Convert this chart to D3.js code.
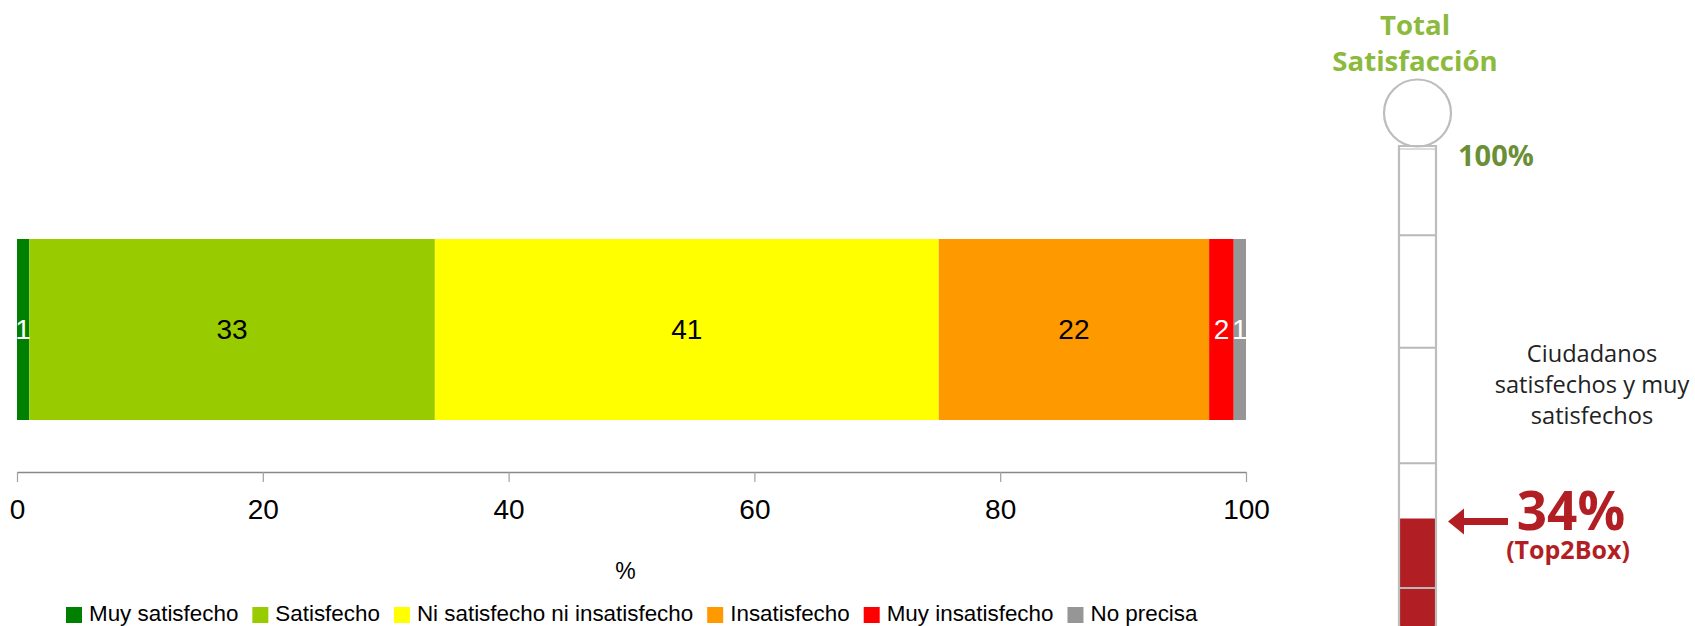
<!DOCTYPE html>
<html>
<head>
<meta charset="utf-8">
<script src="https://cdn.jsdelivr.net/npm/d3@7"></script>
<style>
  html, body { margin: 0; padding: 0; background: #ffffff; }
  svg { display: block; }
</style>
</head>
<body>
<svg id="chart" width="1695" height="626"></svg>
<script>
// Satisfaction distribution (percent of citizens)
const categories = ["Muy satisfecho", "Satisfecho", "Ni satisfecho ni insatisfecho", "Insatisfecho", "Muy insatisfecho", "No precisa"];
const values = [1, 33, 41, 22, 2, 1];
const colors = ["#008000", "#99cc00", "#ffff00", "#ff9900", "#ff0000", "#969696"];
const labelColors = ["#ffffff", "#000000", "#000000", "#000000", "#ffffff", "#ffffff"];
const xTicks = [0, 20, 40, 60, 80, 100];
const axisTitle = "%";

// Thermometer panel
const thermoTitle = ["Total", "Satisfacción"];
const thermoTopLabel = "100%";
const thermoMarks = [84.6, 64.5, 43.9, 21.6];
const thermoCaption = ["Ciudadanos", "satisfechos y muy", "satisfechos"];
const top2BoxNote = "(Top2Box)";

const svg = d3.select("#chart");
const FONT = "'Liberation Sans', Arial, sans-serif";
const TFONT = "'Open Sans', 'Noto Sans', sans-serif";

// ---------- stacked bar ----------
const x = d3.scaleLinear().domain([0, 100]).range([17, 1246]);
const y = d3.scaleBand().domain(["total"]).range([239, 420]).padding(0);

const ends = Array.from(d3.cumsum(values));
const segs = values.map((v, i) => ({
  name: categories[i], value: v, start: ends[i] - v, end: ends[i],
  color: colors[i], labelColor: labelColors[i]
}));

const bar = svg.append("g");
bar.selectAll("rect").data(segs).join("rect")
  .attr("x", d => x(d.start))
  .attr("y", y("total"))
  .attr("width", d => x(d.end) - x(d.start))
  .attr("height", y.bandwidth())
  .attr("fill", d => d.color);

bar.selectAll("text").data(segs).join("text")
  .attr("x", d => (x(d.start) + x(d.end)) / 2)
  .attr("y", y("total") + y.bandwidth() / 2)
  .attr("dy", "0.35em")
  .attr("text-anchor", "middle")
  .attr("font-family", FONT)
  .attr("font-size", 28)
  .attr("fill", d => d.labelColor)
  .text(d => d.value);

// ---------- x axis ----------
const axisG = svg.append("g")
  .attr("transform", "translate(0,472)")
  .call(d3.axisBottom(x).tickValues(xTicks).tickSize(10).tickSizeOuter(0).tickPadding(17));
axisG.select(".domain").attr("stroke", "#888888").attr("stroke-width", 1.5);
axisG.selectAll(".tick line").attr("stroke", "#a0a0a0").attr("stroke-width", 1.2);
axisG.selectAll(".tick text")
  .attr("font-family", FONT).attr("font-size", 28).attr("fill", "#000");

svg.append("text")
  .attr("x", (x(0) + x(100)) / 2 - 6)
  .attr("y", 579)
  .attr("text-anchor", "middle")
  .attr("font-family", FONT).attr("font-size", 23).attr("fill", "#000")
  .text(axisTitle);

// ---------- legend ----------
const legend = svg.append("g");
let lx = 66;
segs.forEach(d => {
  legend.append("rect")
    .attr("x", lx).attr("y", 607).attr("width", 16).attr("height", 16)
    .attr("fill", d.color);
  const t = legend.append("text")
    .attr("x", lx + 23).attr("y", 621)
    .attr("font-family", FONT).attr("font-size", 22.4).attr("fill", "#000")
    .text(d.name);
  lx += 23 + t.node().getComputedTextLength() + 14;
});

// ---------- thermometer ----------
const th = svg.append("g");
const tubeX0 = 1398, tubeX1 = 1437;
const ty = d3.scaleLinear().domain([0, 100]).range([709, 149]);
const top2 = values[0] + values[1];

// bulb
th.append("circle")
  .attr("cx", (tubeX0 + tubeX1) / 2).attr("cy", 113).attr("r", 33.5)
  .attr("fill", "#ffffff").attr("stroke", "#bdbdbd").attr("stroke-width", 2.2);

// tube fill up to Top2Box level
th.append("rect")
  .attr("x", tubeX0).attr("y", ty(top2))
  .attr("width", tubeX1 - tubeX0).attr("height", 626 - ty(top2))
  .attr("rx", 3)
  .attr("fill", "#b11f24");

// tube walls
[tubeX0 + 1, tubeX1 - 1].forEach(xx => {
  th.append("line")
    .attr("x1", xx).attr("x2", xx).attr("y1", ty(100) - 3).attr("y2", 626)
    .attr("stroke", "#bdbdbd").attr("stroke-width", 2.2);
});
// tube top (double line)
th.append("line")
  .attr("x1", tubeX0).attr("x2", tubeX1).attr("y1", ty(100) - 3).attr("y2", ty(100) - 3)
  .attr("stroke", "#bdbdbd").attr("stroke-width", 1.8);
th.append("line")
  .attr("x1", tubeX0 + 2).attr("x2", tubeX1 - 2).attr("y1", ty(100)).attr("y2", ty(100))
  .attr("stroke", "#d0d0d0").attr("stroke-width", 1.5);

// scale marks
th.selectAll("line.mark").data(thermoMarks).join("line")
  .attr("class", "mark")
  .attr("x1", tubeX0 + 2).attr("x2", tubeX1 - 2)
  .attr("y1", d => ty(d)).attr("y2", d => ty(d))
  .attr("stroke", "#b8b8b8").attr("stroke-width", 2);

// title
th.selectAll("text.title").data(thermoTitle).join("text")
  .attr("class", "title")
  .attr("x", 1415).attr("y", (d, i) => 35 + i * 36)
  .attr("text-anchor", "middle")
  .attr("font-family", TFONT).attr("font-weight", 700).attr("font-size", 27.6)
  .attr("fill", "#8cba3c")
  .text(d => d);

th.append("text")
  .attr("x", 1458).attr("y", 166)
  .attr("font-family", TFONT).attr("font-weight", 700).attr("font-size", 29)
  .attr("fill", "#6b8f36")
  .text(thermoTopLabel);

// caption
th.selectAll("text.cap").data(thermoCaption).join("text")
  .attr("class", "cap")
  .attr("x", 1592).attr("y", (d, i) => 362 + i * 31)
  .attr("text-anchor", "middle")
  .attr("font-family", TFONT).attr("font-size", 23.6)
  .attr("fill", "#222222")
  .text(d => d);

// arrow pointing at fill level
const ay = ty(top2) + 3;
th.append("line")
  .attr("x1", 1460).attr("x2", 1508).attr("y1", ay).attr("y2", ay)
  .attr("stroke", "#b11f24").attr("stroke-width", 7);
th.append("path")
  .attr("d", `M1448,${ay} L1464,${ay - 13} L1464,${ay + 13} Z`)
  .attr("fill", "#b11f24");

th.append("text")
  .attr("x", 1571).attr("y", 530)
  .attr("text-anchor", "middle")
  .attr("font-family", TFONT).attr("font-weight", 700).attr("font-size", 53)
  .attr("fill", "#b11f24")
  .text(top2 + "%");

th.append("text")
  .attr("x", 1568).attr("y", 559)
  .attr("text-anchor", "middle")
  .attr("font-family", TFONT).attr("font-weight", 700).attr("font-size", 25)
  .attr("fill", "#b11f24")
  .text(top2BoxNote);
</script>
</body>
</html>
